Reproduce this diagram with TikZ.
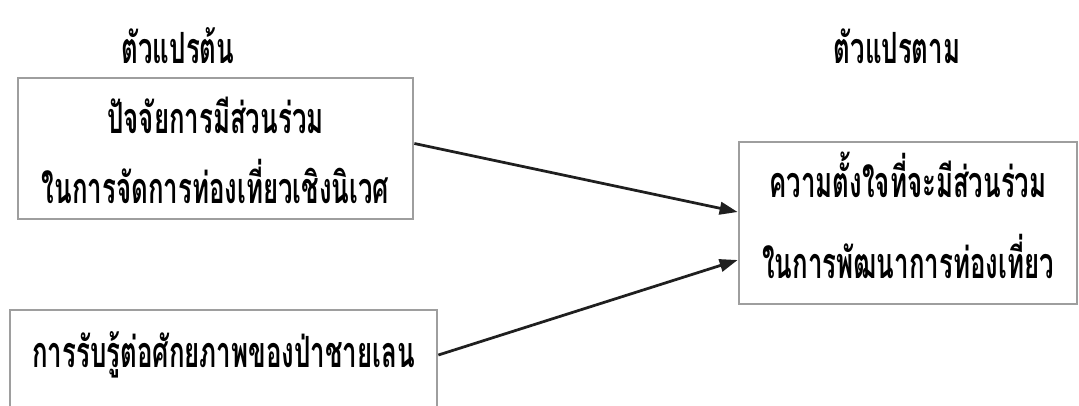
\documentclass[tikz,border=0pt]{standalone}
\usepackage{fontspec}
\newfontfamily\thaifont[Script=Thai,FakeStretch=0.6]{Loma}
\usetikzlibrary{calc,arrows.meta}
\tikzset{
	varbox/.style={draw=black!38, line width=0.55mm},
	varlabel/.style={anchor=base, inner sep=0pt, font=\thaifont\bfseries\fontsize{24.5}{28}\selectfont},
	link/.style={line width=0.55mm, color=black!88, -{Triangle[length=3.6mm, width=2.5mm]}}
}
\begin{document}
\begin{tikzpicture}
		%%%%% START %%%%%
		\useasboundingbox (0, 0) rectangle (21.58, 8.1);
		
		% headings
		\node[varlabel] (indep) at (3.56, 6.84) {ตัวแปรต้น};
		\node[varlabel] (dep) at (17.94, 6.84) {ตัวแปรตาม};
		
		% boxes
		\node[varbox, minimum width=7.9cm, minimum height=2.82cm] (box1) at (4.31, 5.13) {};
		\node[varbox, minimum width=8.54cm, minimum height=3.4cm] (box2) at (4.47, 0.2) {};
		\node[varbox, minimum width=6.76cm, minimum height=3.24cm] (box3) at (18.16, 3.64) {};
		
		% texts
		\node[varlabel] (t1a) at (4.31, 5.44) {ปัจจัยการมีส่วนร่วม};
		\node[varlabel] (t1b) at (4.31, 4.04) {ในการจัดการท่องเที่ยวเชิงนิเวศ};
		\node[varlabel] (t2) at (4.47, 0.76) {การรับรู้ต่อศักยภาพของป่าชายเลน};
		\node[varlabel] (t3a) at (18.16, 4.16) {ความตั้งใจที่จะมีส่วนร่วม};
		\node[varlabel] (t3b) at (18.16, 2.54) {ในการพัฒนาการท่องเที่ยว};
		
		% arrows
		\draw[link] ($(box1.east)+(0, 0.1)$) -- ($(box3.west)+(0, 0.22)$);
		\draw[link] ($(box2.east)+(0, 0.8)$) -- ($(box3.west)+(0, -0.74)$);
		
		%%%%% END %%%%%
	\end{tikzpicture}
\end{document}
